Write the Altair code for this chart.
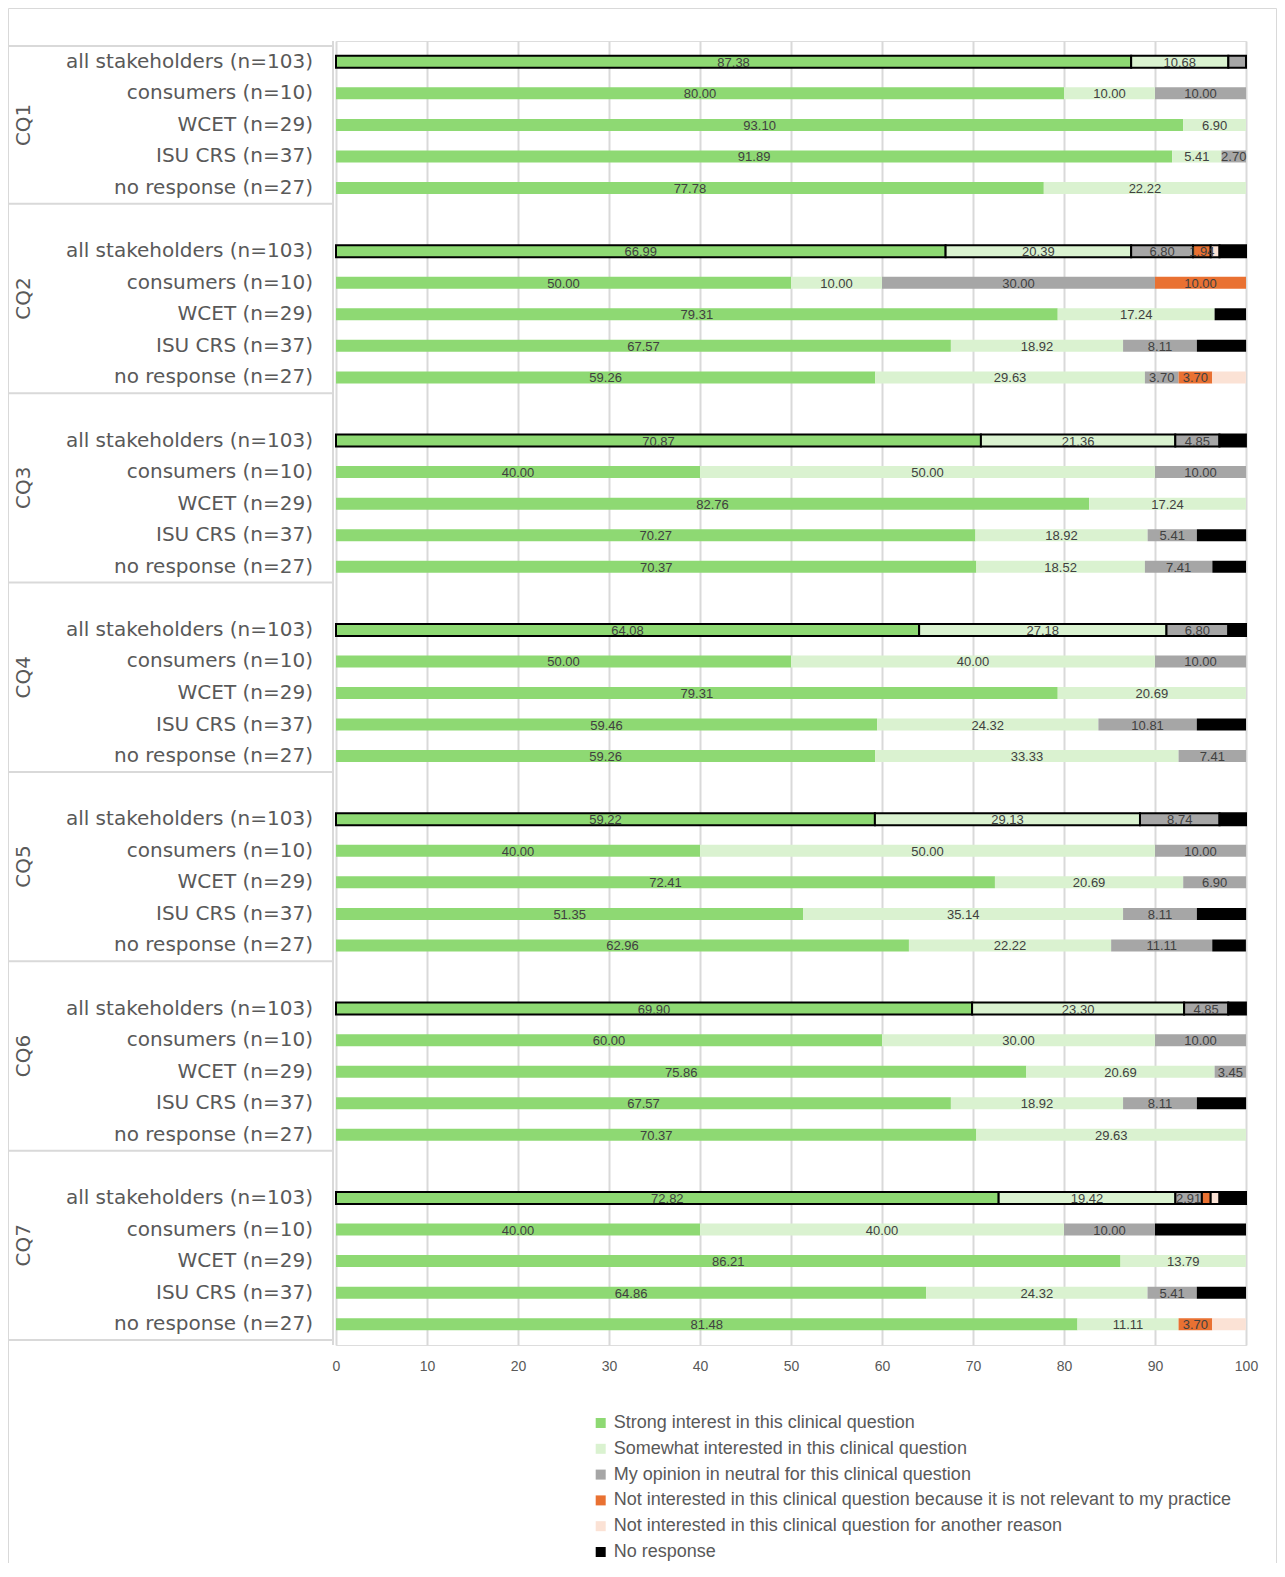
import altair as alt
import pandas as pd

groups = ["CQ1", "CQ2", "CQ3", "CQ4", "CQ5", "CQ6", "CQ7"]
rows = ["all stakeholders (n=103)", "consumers (n=10)", "WCET (n=29)",
        "ISU CRS (n=37)", "no response (n=27)"]
series = ["Strong interest in this clinical question",
          "Somewhat interested in this clinical question",
          "My opinion in neutral for this clinical question",
          "Not interested in this clinical question because it is not relevant to my practice",
          "Not interested in this clinical question for another reason",
          "No response"]
colors = ["#8ED973", "#DAF2D0", "#A6A6A6", "#E97132", "#FBE2D5", "#000000"]

# values per group (CQ1..CQ7), each list = the 5 rows
strong = [[87.38, 80.00, 93.10, 91.89, 77.78],
          [66.99, 50.00, 79.31, 67.57, 59.26],
          [70.87, 40.00, 82.76, 70.27, 70.37],
          [64.08, 50.00, 79.31, 59.46, 59.26],
          [59.22, 40.00, 72.41, 51.35, 62.96],
          [69.90, 60.00, 75.86, 67.57, 70.37],
          [72.82, 40.00, 86.21, 64.86, 81.48]]
somewhat = [[10.68, 10.00, 6.90, 5.41, 22.22],
            [20.39, 10.00, 17.24, 18.92, 29.63],
            [21.36, 50.00, 17.24, 18.92, 18.52],
            [27.18, 40.00, 20.69, 24.32, 33.33],
            [29.13, 50.00, 20.69, 35.14, 22.22],
            [23.30, 30.00, 20.69, 18.92, 29.63],
            [19.42, 40.00, 13.79, 24.32, 11.11]]
neutral = [[1.94, 10.00, 0, 2.70, 0],
           [6.80, 30.00, 0, 8.11, 3.70],
           [4.85, 10.00, 0, 5.41, 7.41],
           [6.80, 10.00, 0, 10.81, 7.41],
           [8.74, 10.00, 6.90, 8.11, 11.11],
           [4.85, 10.00, 3.45, 8.11, 0],
           [2.91, 10.00, 0, 5.41, 0]]
not_relevant = [[0, 0, 0, 0, 0],
                [1.94, 10.00, 0, 0, 3.70],
                [0, 0, 0, 0, 0],
                [0, 0, 0, 0, 0],
                [0, 0, 0, 0, 0],
                [0, 0, 0, 0, 0],
                [0.97, 0, 0, 0, 3.70]]
other_reason = [[0, 0, 0, 0, 0],
                [0.97, 0, 0, 0, 3.70],
                [0, 0, 0, 0, 0],
                [0, 0, 0, 0, 0],
                [0, 0, 0, 0, 0],
                [0, 0, 0, 0, 0],
                [0.97, 0, 0, 0, 3.70]]
no_resp = [[0, 0, 0, 0, 0],
           [2.91, 0, 3.45, 5.41, 0],
           [2.91, 0, 0, 5.41, 3.70],
           [1.94, 0, 0, 5.41, 0],
           [2.91, 0, 0, 5.41, 3.70],
           [1.94, 0, 0, 5.41, 0],
           [2.91, 10.00, 0, 5.41, 0]]

all_values = [strong, somewhat, neutral, not_relevant, other_reason, no_resp]

recs, row_recs, grp_recs = [], [], []
bounds = [-0.5]
for g, grp in enumerate(groups):
    for r, row in enumerate(rows):
        slot = 6 * g + r
        row_recs.append(dict(slot=slot, row=row))
        start = 0.0
        for s, name in enumerate(series):
            v = all_values[s][g][r]
            if v > 0:
                show = (s <= 2 and v >= 2.5) or (s == 3 and v >= 1.9)
                recs.append(dict(slot=slot, series=name, order=s, x0=start,
                                 x1=start + v, mid=start + v / 2,
                                 is_all=(r == 0), show=show,
                                 label=f"{v:.2f}"))
            start += v
    top = -0.5 if g == 0 else 6 * g - 1.5
    bottom = 6 * g + 4.5
    bounds.append(bottom)
    grp_recs.append(dict(group=grp, yc=(top + bottom) / 2))

df = pd.DataFrame(recs)
df_rows = pd.DataFrame(row_recs)
df_grp = pd.DataFrame(grp_recs)
df_b = pd.DataFrame(dict(yb=bounds))
df_frame = pd.DataFrame(dict(a=[0]))

W, H = 910, 1304
PL, PT, PR, PB = 328, 33, 31, 218
grey = "#D9D9D9"
txt = "#595959"

yscale = alt.Scale(domain=[-0.5, 40.5], reverse=True, nice=False, zero=False)
xscale = alt.Scale(domain=[0, 100], nice=False)
xaxis = alt.Axis(values=list(range(0, 101, 10)), grid=True, gridColor=grey,
                 gridWidth=2, ticks=False, domain=False, labelFontSize=14,
                 labelColor=txt, labelFont="Liberation Sans", title=None,
                 labelPadding=14, labelFlush=False)

bars = alt.Chart(df).mark_bar(size=12).encode(
    x=alt.X("x0:Q", scale=xscale, axis=xaxis),
    x2="x1:Q",
    y=alt.Y("slot:Q", scale=yscale, axis=None),
    color=alt.Color("series:N", scale=alt.Scale(domain=series, range=colors),
                    legend=alt.Legend(orient="none", legendX=255.7, legendY=1373,
                                      direction="vertical", title=None,
                                      padding=0,
                                      symbolType="square", symbolSize=100,
                                      symbolStrokeWidth=0,
                                      labelFontSize=18, labelFont="Liberation Sans",
                                      labelColor=txt, rowPadding=7.8,
                                      labelOffset=4, labelLimit=900)),
    stroke=alt.condition("datum.is_all", alt.value("black"), alt.value("transparent")),
    strokeWidth=alt.condition("datum.is_all", alt.value(2), alt.value(0)),
)

labels = alt.Chart(df).transform_filter("datum.show").mark_text(
    fontSize=13, font="Liberation Sans", color="#404040", baseline="middle", dy=1
).encode(
    x=alt.X("mid:Q", scale=xscale, axis=xaxis),
    y=alt.Y("slot:Q", scale=yscale, axis=None),
    text="label:N",
)

row_labels = alt.Chart(df_rows).mark_text(
    align="right", baseline="middle", fontSize=20, font="DejaVu Sans", color=txt
).encode(
    x=alt.value(-23),
    y=alt.Y("slot:Q", scale=yscale, axis=None),
    text="row:N",
)

grp_labels = alt.Chart(df_grp).mark_text(
    angle=270, align="center", baseline="middle", fontSize=20,
    font="DejaVu Sans", color=txt
).encode(
    x=alt.value(-312),
    y=alt.Y("yc:Q", scale=yscale, axis=None),
    text="group:N",
)

seps = alt.Chart(df_b).mark_rule(color=grey, strokeWidth=2).encode(
    x=alt.value(-PL), x2=alt.value(-3),
    y=alt.Y("yb:Q", scale=yscale, axis=None),
)

vline = alt.Chart(df_frame).mark_rule(color=grey, strokeWidth=2).encode(
    x=alt.value(-3), y=alt.value(0), y2=alt.value(H),
)

frame = alt.Chart(df_frame).mark_rect(fill=None, stroke=grey, strokeWidth=1).encode(
    x=alt.value(-PL + 0.5), x2=alt.value(W + PR - 0.5),
    y=alt.value(-PT + 0.5), y2=alt.value(H + PB + 20),
)

chart = alt.layer(frame, seps, vline, bars, labels, row_labels, grp_labels).properties(
    width=W, height=H,
    autosize=alt.AutoSizeParams(type="none"),
    padding={"left": PL, "top": PT, "right": PR, "bottom": PB},
).configure_view(stroke=None).configure(background="white")

chart.save("out.html", embed_options={"renderer": "svg", "actions": False})
